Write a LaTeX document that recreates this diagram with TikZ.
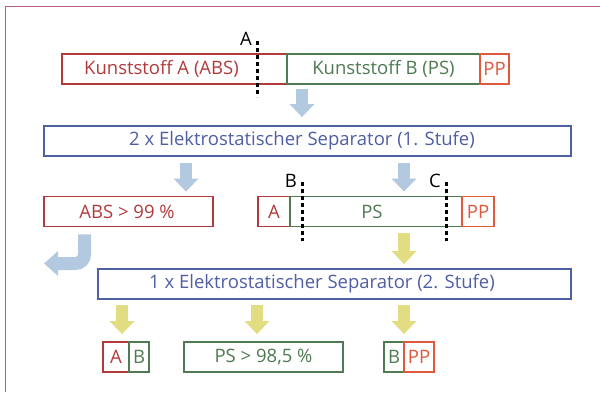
\documentclass[tikz,border=0pt]{standalone}
\usepackage{fontspec}
\setmainfont{Open Sans}
\usetikzlibrary{arrows.meta}

\definecolor{redA}{HTML}{B23A3C}
\definecolor{greenB}{HTML}{4F7A52}
\definecolor{orangePP}{HTML}{E0593B}
\definecolor{sepblue}{HTML}{4F5FA3}
\definecolor{flowblue}{HTML}{B3C9E0}
\definecolor{flowyellow}{HTML}{E2DC82}
\definecolor{frame}{HTML}{B95A86}

\tikzset{
  box/.style={draw=#1, line width=1.8pt, rectangle, inner sep=0pt, minimum height=30pt, fill=white},
  txt/.style={text=#1, font=\fontsize{18.5}{20}\selectfont, inner sep=0pt},
  tag/.style={text=black, font=\fontsize{18.5}{20}\selectfont, inner sep=0pt},
  blockflow/.style={draw=#1, line width=12pt, line cap=butt,
    -{Triangle[width=24pt,length=13pt]}},
  cutline/.style={draw=black, line width=2.8pt, dash pattern=on 4pt off 3pt},
}

\begin{document}
\begin{tikzpicture}[x=1pt,y=-1pt]
  \useasboundingbox (0,0) rectangle (600,392);
  % outer frame (open to the right and bottom)
  \draw[frame, line width=1.8pt] (5.5,392) -- (5.5,6.5) -- (600,6.5);

  % feed material
  \node[box=redA, minimum width=225pt] (kA) at (174.5,69) {};
  \node[box=greenB, minimum width=193pt] (kB) at (383.5,69) {};
  \node[box=orangePP, minimum width=29pt] (pp1) at (494.5,69) {};
  \node[txt=redA] (kAt) at (161.5,69) {Kunststoff A (ABS)};
  \node[txt=greenB] (kBt) at (kB) {Kunststoff B (PS)};
  \node[txt=orangePP] (pp1t) at (pp1) {PP};
  \draw[cutline] (257.5,41) -- (257.5,97);
  \node[tag, anchor=south east] (tA) at (252,46) {A};

  % first stage
  \node[box=sepblue, minimum width=527pt] (sep1) at (307.5,141) {};
  \node[txt=sepblue] (sep1t) at (302,141) {2 x Elektrostatischer Separator (1. Stufe)};
  \draw[blockflow=flowblue, shorten <=4pt, shorten >=8pt] (kB.south -| 302,0) -- (sep1.north -| 302,0);

  % first stage products
  \node[box=redA, minimum width=169pt] (abs) at (128.5,211.5) {};
  \node[txt=redA] (abst) at (127,211.5) {ABS > 99 \%};
  \node[box=redA, minimum width=32pt] (a2) at (274,211.5) {};
  \node[box=greenB, minimum width=172pt] (ps) at (376,211.5) {};
  \node[box=orangePP, minimum width=32pt] (pp2) at (478,211.5) {};
  \node[txt=redA] (a2t) at (a2) {A};
  \node[txt=greenB] (pst) at (372,211.5) {PS};
  \node[txt=orangePP] (pp2t) at (pp2) {PP};
  \draw[cutline] (302.5,182) -- (302.5,241);
  \draw[cutline] (446.5,182) -- (446.5,241);
  \node[tag, anchor=south east] (tB) at (297,187.5) {B};
  \node[tag, anchor=south east] (tC) at (441,187.5) {C};
  \draw[blockflow=flowblue, shorten <=6pt, shorten >=4pt] (sep1.south -| 186,0) -- (abs.north -| 186,0);
  \draw[blockflow=flowblue, shorten <=6pt, shorten >=4pt] (sep1.south -| 404,0) -- (ps.north -| 404,0);

  % ABS fraction leaves the process
  \coordinate (absout) at (44,263.5);
  \draw[draw=flowblue, line width=13pt, rounded corners=9pt,
    -{Triangle[width=24pt,length=14pt]}, shorten <=7pt]
    (abs.south -| 84.5,0) |- (absout);

  % second stage
  \node[box=sepblue, minimum width=473pt] (sep2) at (334.5,284) {};
  \node[txt=sepblue] (sep2t) at (322,284) {1 x Elektrostatischer Separator (2. Stufe)};
  \draw[blockflow=flowyellow, shorten <=6pt, shorten >=4pt] (ps.south -| 404,0) -- (sep2.north -| 404,0);

  % second stage products
  \node[box=redA, minimum width=26pt] (a3) at (116,357) {};
  \node[box=greenB, minimum width=20pt] (b3) at (139,357) {};
  \node[txt=redA] (a3t) at (a3) {A};
  \node[txt=greenB] (b3t) at (b3) {B};
  \node[box=greenB, minimum width=159pt] (ps3) at (263.5,357) {};
  \node[txt=greenB] (ps3t) at (ps3) {PS > 98,5 \%};
  \node[box=greenB, minimum width=20pt] (b4) at (394,357) {};
  \node[box=orangePP, minimum width=30pt] (pp4) at (419,357) {};
  \node[txt=greenB] (b4t) at (b4) {B};
  \node[txt=orangePP] (pp4t) at (pp4) {PP};
  \draw[blockflow=flowyellow, shorten <=5pt, shorten >=7pt] (sep2.south -| 122,0) -- (a3.north -| 122,0);
  \draw[blockflow=flowyellow, shorten <=5pt, shorten >=7pt] (sep2.south -| 257,0) -- (ps3.north -| 257,0);
  \draw[blockflow=flowyellow, shorten <=5pt, shorten >=7pt] (sep2.south -| 404,0) -- (b4.north -| 404,0);
\end{tikzpicture}
\end{document}
